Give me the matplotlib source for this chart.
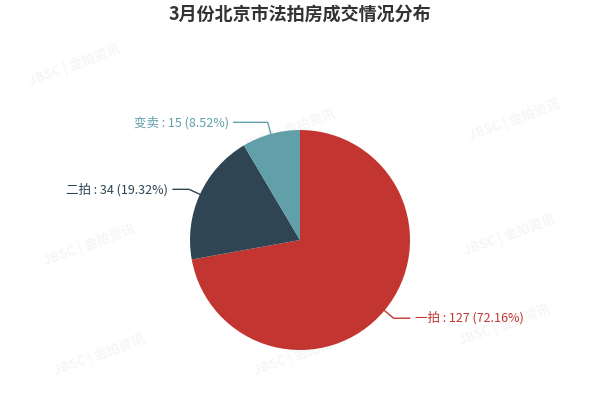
import numpy as np
import matplotlib
matplotlib.use("Agg")
import matplotlib.pyplot as plt

plt.rcParams['font.family'] = ['Noto Sans CJK SC', 'DejaVu Sans']

title = "3月份北京市法拍房成交情况分布"
categories = ["一拍", "二拍", "变卖"]
values = [127, 34, 15]
colors = ["#c23531", "#2f4554", "#61a0a8"]

fig = plt.figure(figsize=(6, 4), dpi=100)
ax = fig.add_axes([0, 0, 1, 1])
ax.set_xlim(0, 600)
ax.set_ylim(0, 400)
ax.set_aspect('equal')
ax.axis('off')

# faint watermarks
for wx, wy in [(75, 335), (290, 270), (515, 280), (90, 155), (290, 140), (510, 165), (100, 45), (300, 45), (505, 75)]:
    ax.text(wx, wy, "JBSC | 金拍资讯", fontsize=9.5, color="#f6f6f6", rotation=20,
            ha='center', va='center', fontweight='bold', zorder=0)

cx, cy, R = 300, 160, 110
wedges, _ = ax.pie(values, colors=colors, startangle=90, counterclock=False,
                   center=(cx, cy), radius=R, frame=True,
                   wedgeprops=dict(linewidth=0))
ax.set_xlim(0, 600)
ax.set_ylim(0, 400)
ax.axis('off')

total = sum(values)
extra = [0, 0, 18]
for w, cat, v, c, ex in zip(wedges, categories, values, colors, extra):
    ang = np.deg2rad((w.theta1 + w.theta2) / 2)
    ex0, ey0 = cx + R * np.cos(ang), cy + R * np.sin(ang)
    ex1, ey1 = cx + (R + 12) * np.cos(ang), cy + (R + 12) * np.sin(ang)
    side = 1 if np.cos(ang) >= 0 else -1
    ex2 = ex1 + side * (16 + ex)
    ax.plot([ex0, ex1, ex2], [ey0, ey1, ey1], color=c, lw=1)
    label = f"{cat} : {v} ({v / total * 100:.2f}%)"
    ax.text(ex2 + side * 5, ey1, label, color=c, fontsize=9,
            ha='left' if side > 0 else 'right', va='center')

fig.text(0.5, 1 - 15 / 400, title, ha='center', va='center', fontsize=13,
         fontweight='bold', color='#333333')

fig.savefig("out.png", dpi=100)
